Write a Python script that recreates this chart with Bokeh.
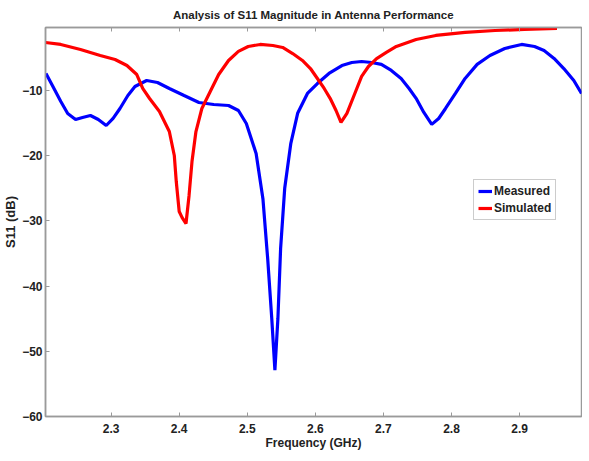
from bokeh.plotting import figure
from bokeh.models import Range1d, FixedTicker, LinearAxis, Legend, LegendItem, CustomJSTickFormatter
from bokeh.embed import file_html
from bokeh.resources import INLINE

# Measured S11 (GHz, dB)
meas_freq = [2.2043, 2.2145, 2.2261, 2.2362, 2.2478, 2.258, 2.2696, 2.2812, 2.2928, 2.3029,
             2.313, 2.3246, 2.335, 2.3522, 2.3681, 2.3855, 2.4072, 2.429, 2.4507, 2.4725,
             2.487, 2.4986, 2.513, 2.523, 2.530, 2.536, 2.5406, 2.545, 2.549, 2.555,
             2.564, 2.574, 2.5884, 2.603, 2.620, 2.639, 2.6536, 2.668, 2.6826, 2.697,
             2.7116, 2.726, 2.7377, 2.748, 2.7594, 2.771, 2.7812, 2.791, 2.8058, 2.820,
             2.8377, 2.8565, 2.8783, 2.903, 2.922, 2.936, 2.9507, 2.965, 2.9797, 2.991]
meas_s11 = [-7.39, -9.39, -11.69, -13.53, -14.45, -14.14, -13.83, -14.45, -15.37, -14.29,
            -12.76, -10.77, -9.39, -8.47, -8.77, -9.69, -10.77, -11.84, -12.15, -12.3,
            -13.07, -15.06, -19.66, -26.6, -35.8, -45.0, -52.9, -45.0, -34.2, -25.0,
            -18.1, -13.5, -10.46, -8.93, -7.39, -6.17, -5.71, -5.55, -5.71, -6.0,
            -6.93, -8.16, -9.69, -11.2, -13.37, -15.2, -14.3, -12.8, -10.46, -8.16,
            -6.0, -4.63, -3.56, -2.94, -3.25, -3.87, -5.09, -6.63, -8.47, -10.46]

# Simulated S11 (GHz, dB)
sim_freq = [2.2036, 2.226, 2.255, 2.284, 2.3058, 2.3232, 2.3377, 2.3464, 2.3565, 2.371,
            2.3855, 2.3928, 2.3957, 2.400, 2.4043, 2.410, 2.4145, 2.4188, 2.4246, 2.4333,
            2.4478, 2.458, 2.4725, 2.487, 2.5014, 2.519, 2.5377, 2.552, 2.5667, 2.581,
            2.5928, 2.603, 2.613, 2.6217, 2.6304, 2.6377, 2.6464, 2.658, 2.668, 2.678,
            2.690, 2.7043, 2.719, 2.748, 2.777, 2.820, 2.864, 2.907, 2.955]
sim_s11 = [-2.64, -2.94, -3.71, -4.63, -5.25, -6.17, -7.55, -9.69, -11.23, -13.22,
           -16.29, -19.97, -23.96, -28.56, -29.5, -30.4, -26.1, -20.9, -16.3, -12.76,
           -9.69, -7.55, -5.4, -4.0, -3.25, -2.94, -3.1, -3.4, -4.33, -5.4,
           -6.63, -8.16, -9.69, -11.2, -13.07, -14.9, -13.5, -10.46, -7.85, -6.32,
           -5.1, -4.17, -3.25, -2.18, -1.56, -1.1, -0.8, -0.64, -0.49]

x_ticks = [2.3, 2.4, 2.5, 2.6, 2.7, 2.8, 2.9]
y_ticks = [-60, -50, -40, -30, -20, -10]

FONT = "Liberation Sans"
GRAY = "#9a9a9a"
TXT = "#222222"

p = figure(frame_width=536, frame_height=389, output_backend="svg", toolbar_location=None,
           x_range=Range1d(2.2036, 2.991), y_range=Range1d(-60, -0.34),
           title="Analysis of S11 Magnitude in Antenna Performance",
           min_border_left=0, min_border_right=1, min_border_top=2,
           min_border_bottom=0)
p.title.align = "center"
p.title.text_font = FONT
p.title.text_font_size = "11.5px"
p.title.text_font_style = "bold"
p.title.text_color = TXT
p.title.standoff = 13

p.xgrid.visible = False
p.ygrid.visible = False
p.outline_line_color = GRAY
p.outline_line_width = 1.5

for ax in (p.xaxis[0], p.yaxis[0]):
    ax.axis_line_color = GRAY
    ax.axis_line_width = 1.5
    ax.major_tick_line_color = GRAY
    ax.major_tick_in = 4
    ax.major_tick_out = 0
    ax.minor_tick_line_color = None
    ax.major_label_text_font = FONT
    ax.major_label_text_font_size = "12px"
    ax.major_label_text_font_style = "bold"
    ax.major_label_text_color = TXT
    ax.axis_label_text_font = FONT
    ax.axis_label_text_font_style = "bold"
    ax.axis_label_text_color = TXT

p.xaxis[0].ticker = FixedTicker(ticks=x_ticks)
p.yaxis[0].ticker = FixedTicker(ticks=y_ticks)
p.xaxis[0].axis_label = "Frequency (GHz)"
p.xaxis[0].axis_label_text_font_size = "12px"
p.xaxis[0].major_label_standoff = 7
p.xaxis[0].axis_label_standoff = 0
p.yaxis[0].axis_label = "S11 (dB)"
p.yaxis[0].axis_label_text_font_size = "13px"
p.yaxis[0].major_label_standoff = 3
p.yaxis[0].axis_label_standoff = 1

top_ax = LinearAxis(ticker=FixedTicker(ticks=x_ticks),
                    formatter=CustomJSTickFormatter(code="return ''"),
                    axis_line_color=GRAY, axis_line_width=1.5,
                    major_tick_line_color=GRAY, major_tick_in=4,
                    major_tick_out=0, minor_tick_line_color=None, major_label_standoff=0)
p.add_layout(top_ax, "above")

r_meas = p.line(meas_freq, meas_s11, line_color="#0000ff", line_width=3.2)
r_sim = p.line(sim_freq, sim_s11, line_color="#ff0000", line_width=3.2)

legend = Legend(items=[LegendItem(label="Measured", renderers=[r_meas]),
                       LegendItem(label="Simulated", renderers=[r_sim])],
                location=(428, 196))
legend.label_text_font = FONT
legend.label_text_font_size = "12px"
legend.label_text_font_style = "bold"
legend.label_text_color = TXT
legend.border_line_color = GRAY
legend.border_line_width = 1.5
legend.glyph_width = 14
legend.glyph_height = 14
legend.label_standoff = 2
legend.label_height = 14
legend.spacing = 3
legend.padding = 4
legend.margin = 0
p.add_layout(legend)

open("out.html", "w").write(file_html(p, INLINE))
